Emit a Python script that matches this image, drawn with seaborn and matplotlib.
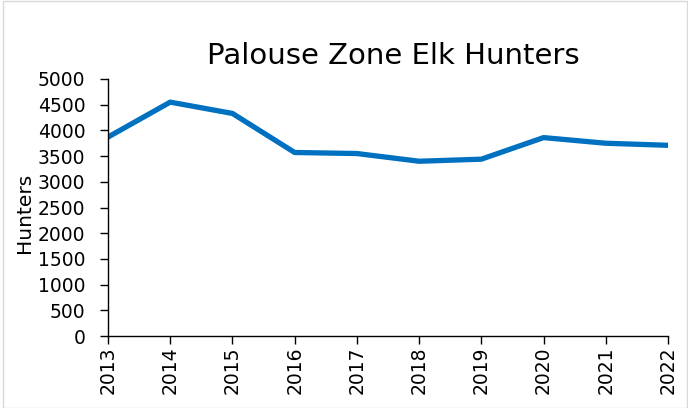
import matplotlib
matplotlib.use("Agg")
import matplotlib.pyplot as plt
import seaborn as sns
import pandas as pd
from matplotlib.patches import Rectangle

years = [2013, 2014, 2015, 2016, 2017, 2018, 2019, 2020, 2021, 2022]
hunters = [3870, 4550, 4330, 3570, 3550, 3400, 3440, 3860, 3750, 3710]
title = "Palouse Zone Elk Hunters"
ylabel = "Hunters"

sns.set_theme(style="white")
plt.rcParams['font.family'] = ['DejaVu Sans']
plt.rcParams['text.color'] = 'black'
plt.rcParams['axes.labelcolor'] = 'black'
plt.rcParams['xtick.color'] = 'black'
plt.rcParams['ytick.color'] = 'black'

df = pd.DataFrame({"Year": years, "Hunters": hunters})

fig = plt.figure(figsize=(6.88, 4.08), dpi=100)
ax = fig.add_axes([108/688, 1-336/408, (668-108)/688, (336-79)/408])
sns.lineplot(data=df, x="Year", y="Hunters", ax=ax, color="#0070C0", linewidth=3.8)

ax.set_xlim(2013, 2022)
ax.set_ylim(0, 5000)
ax.set_yticks(range(0, 5001, 500))
ax.set_xticks(years)
ax.set_xticklabels([str(y) for y in years], rotation=90, fontsize=13.5)
ax.tick_params(axis='y', labelsize=13.5, pad=10.5)
ax.tick_params(axis='x', pad=1.5)
ax.tick_params(axis='both', direction='out', length=5.8, width=1, color='black', bottom=True, left=True)
ax.set_xlabel("")
ax.set_ylabel(ylabel, fontsize=14.5)
ax.yaxis.set_label_coords(-0.132, 0.48)
for s in ["top", "right"]:
    ax.spines[s].set_visible(False)
for s in ["left", "bottom"]:
    ax.spines[s].set_color("black")
    ax.spines[s].set_linewidth(1)
ax.set_title(title, fontsize=21, pad=11, color='black', x=0.51)

fig.patches.append(Rectangle((2.5/688, 0.5/408), 1-3.5/688, 1-1.5/408, transform=fig.transFigure,
                             fill=False, edgecolor="#d9d9d9", linewidth=1))
fig.savefig("out.png", dpi=100)
